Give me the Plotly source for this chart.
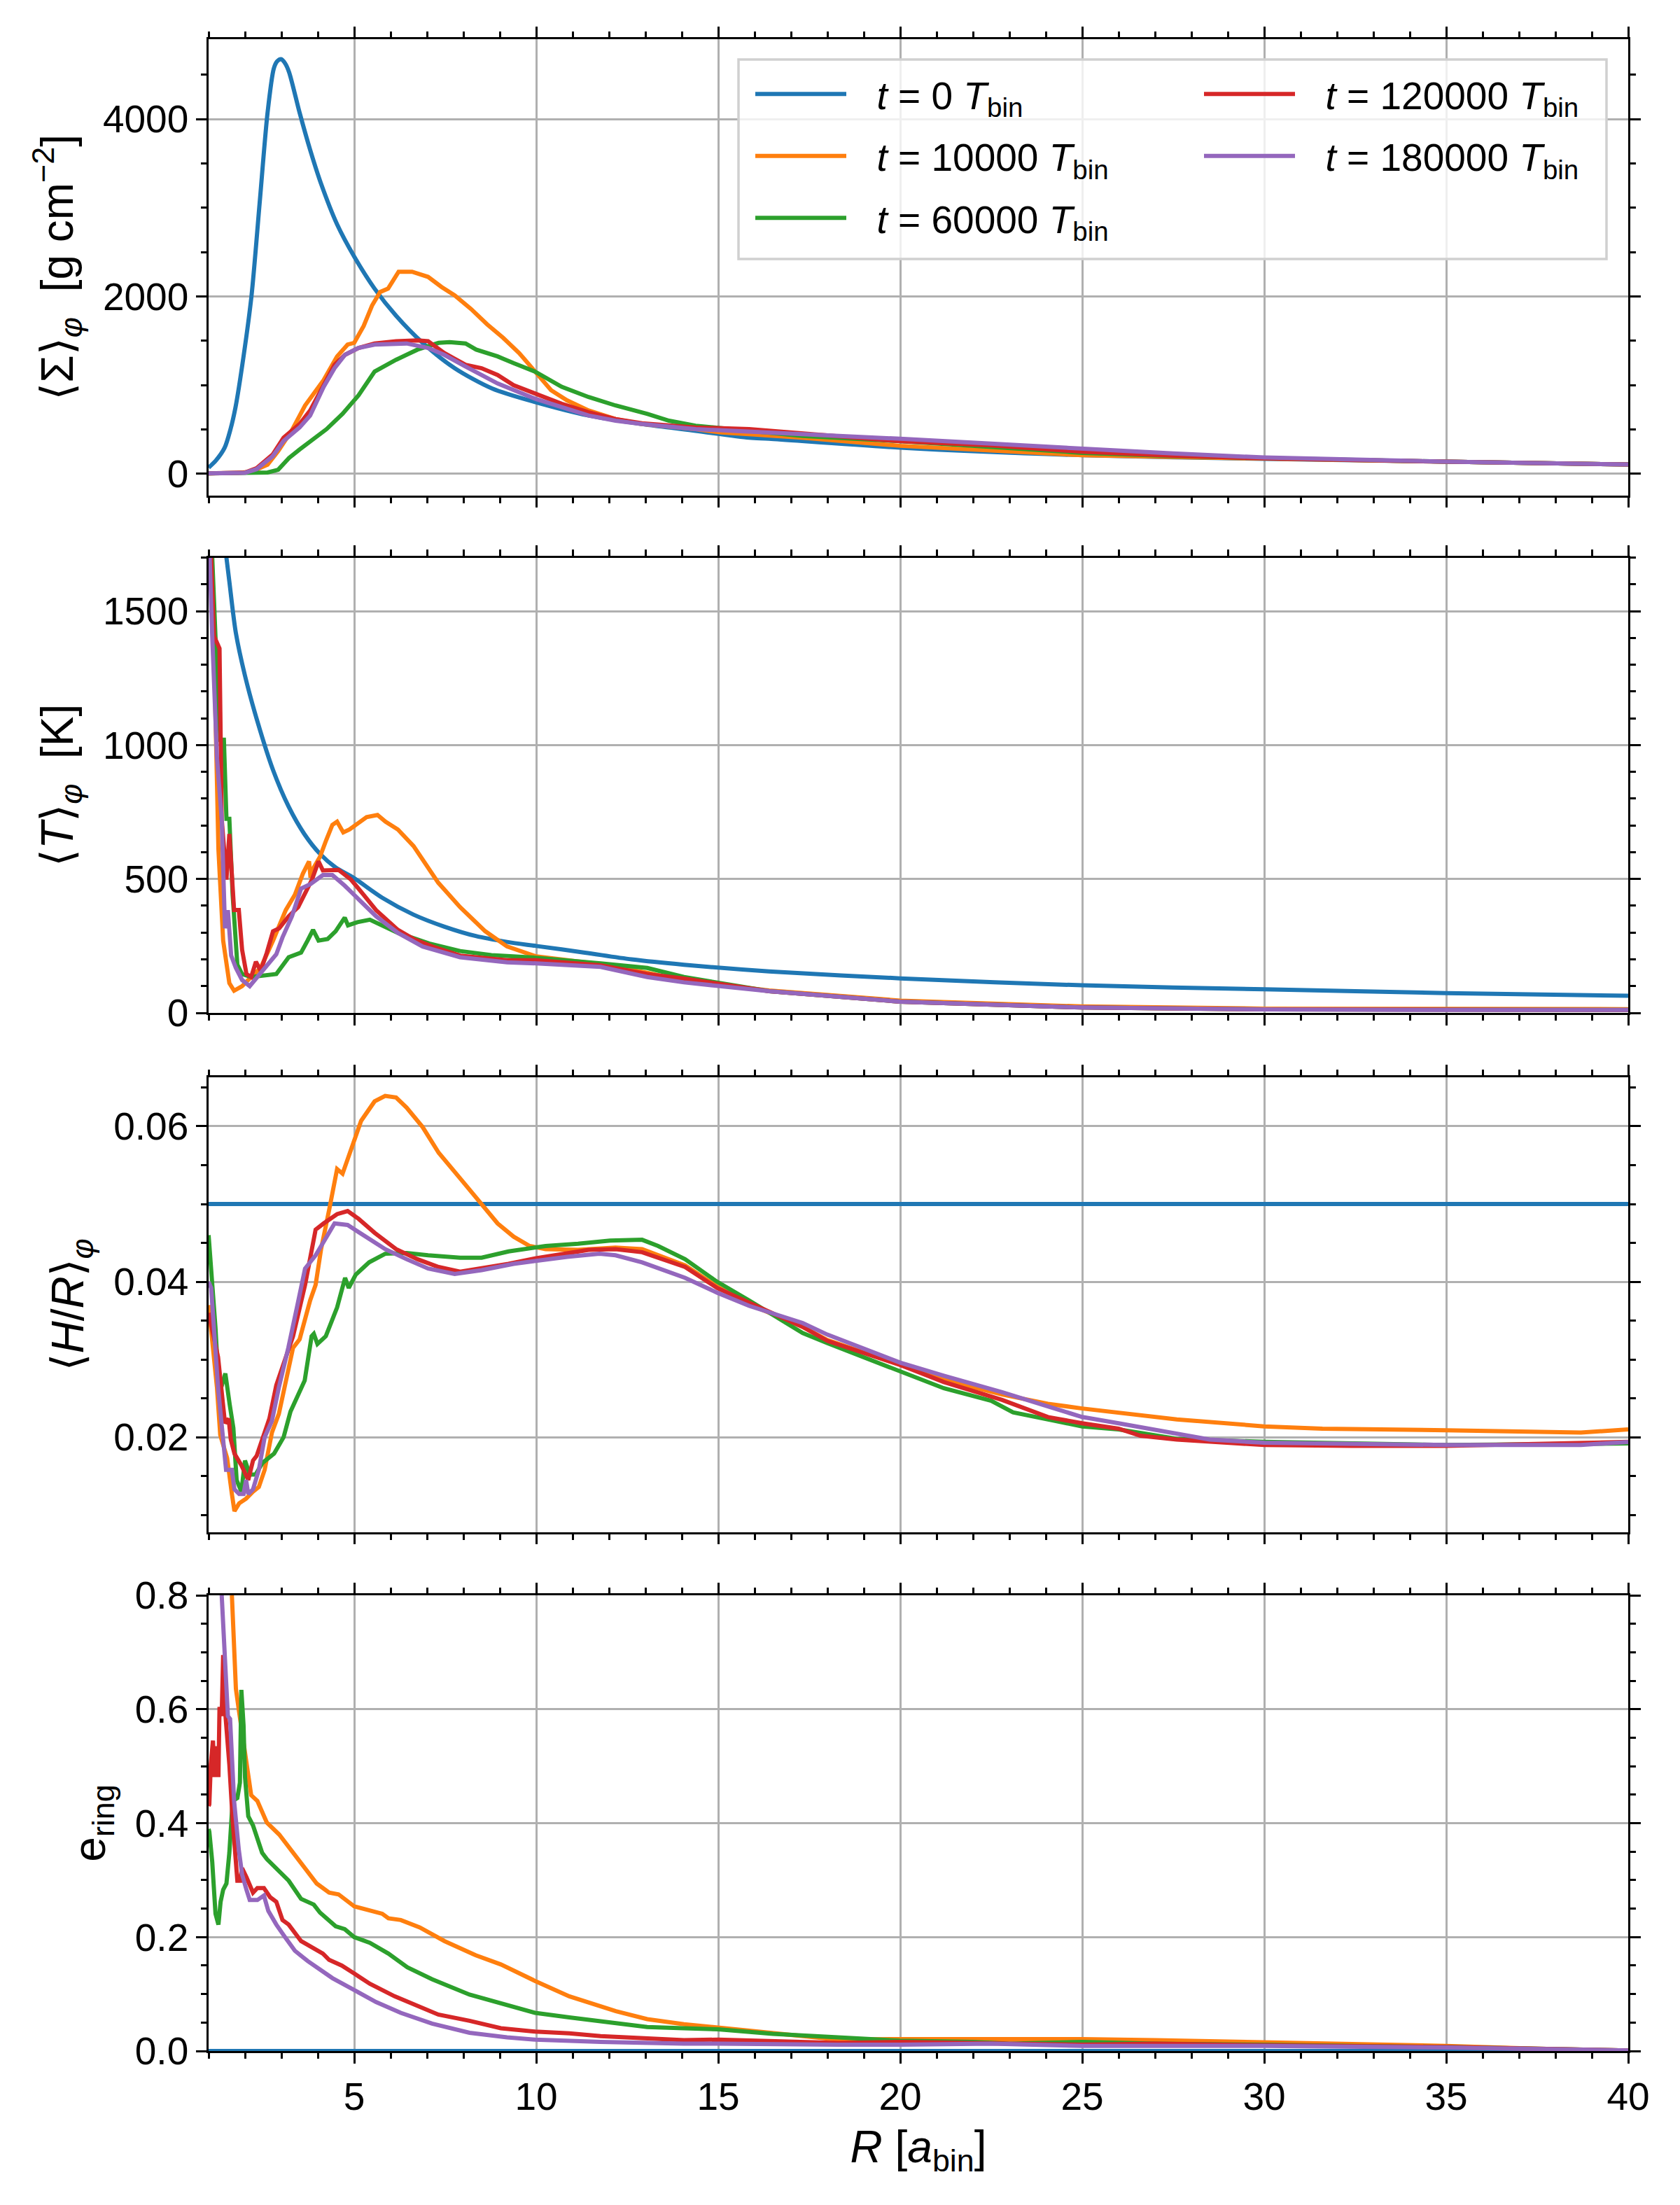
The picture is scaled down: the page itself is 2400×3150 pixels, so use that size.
import plotly.graph_objects as go
from plotly.subplots import make_subplots

# ---------------- data (R [a_bin], value) ----------------
GAP = "\u2002\u2009"
labels = [GAP + "<i>t</i> = 0 <i>T</i><sub>bin</sub>",
          GAP + "<i>t</i> = 10000 <i>T</i><sub>bin</sub>",
          GAP + "<i>t</i> = 60000 <i>T</i><sub>bin</sub>",
          GAP + "<i>t</i> = 120000 <i>T</i><sub>bin</sub>",
          GAP + "<i>t</i> = 180000 <i>T</i><sub>bin</sub>"]
colors = ["#1f77b4", "#ff7f0e", "#2ca02c", "#d62728", "#9467bd"]

# Surface density <Sigma>_phi [g cm^-2]
sig_t0 = [(1.0,70),(1.2,150),(1.44,294),(1.6,500),(1.74,752),(1.96,1324),(2.18,2012),(2.40,3042),(2.62,4073),
          (2.79,4569),(2.88,4650),(2.99,4676),(3.1,4630),(3.21,4531),(3.50,4073),(3.79,3653),(4.09,3271),(4.53,2813),
          (5.0,2450),(5.56,2088),(6.15,1783),(6.88,1477),(7.76,1191),(8.79,962),(9.97,809),(11.44,657),(12.91,561),
          (14.38,485),(15.85,408),(16.4,395),(20,295),(25,210),(30,170),(35,137),(40,105)]
sig_t10k = [(1.0,5),(1.8,10),(2.18,25),(2.62,103),(2.91,256),(3.28,485),(3.65,771),(3.94,943),(4.16,1057),(4.53,1324),
            (4.82,1458),(5.0,1477),(5.26,1668),(5.49,1897),(5.71,2050),(5.93,2088),(6.22,2279),(6.59,2279),(7.03,2221),
            (7.4,2107),(7.76,2012),(8.21,1859),(8.65,1687),(9.09,1534),(9.53,1363),(9.97,1153),(10.41,943),(10.85,828),
            (11.44,714),(12.18,618),(12.91,561),(14.38,504),(15.1,466),(15.85,447),(17.3,408),(20,316),(22.5,265),
            (25,210),(27.5,190),(30,170),(35,137),(40,105)]
sig_t60k = [(1.0,5),(2.0,10),(2.62,15),(2.91,46),(3.21,179),(3.5,275),(3.79,370),(4.24,504),(4.68,676),(5.12,886),
            (5.56,1153),(6.15,1286),(6.74,1401),(7.32,1477),(7.62,1485),(8.06,1470),(8.35,1401),(8.94,1324),(9.38,1248),
            (9.97,1153),(10.7,981),(11.44,866),(12.18,771),(13.06,676),(13.65,599),(14.38,542),(15.85,485),(17.3,427),
            (20,368),(22.5,305),(25,237),(27.5,200),(30,175),(35,137),(40,105)]
sig_t120k = [(1.0,5),(2.0,15),(2.32,65),(2.76,218),(3.06,408),(3.5,561),(3.79,714),(4.16,1000),(4.46,1229),(4.75,1343),
             (5.12,1420),(5.56,1470),(6.15,1496),(6.74,1504),(7.03,1496),(7.47,1363),(8.06,1229),(8.5,1191),(8.94,1115),
             (9.38,1000),(9.97,905),(10.7,790),(11.44,695),(12.18,618),(12.91,569),(14.38,523),(15.85,504),(17.3,460),
             (20,368),(22.5,320),(25,250),(27.5,205),(30,175),(35,137),(40,105)]
sig_t180k = [(1.0,5),(2.0,12),(2.32,53),(2.76,198),(3.06,370),(3.5,523),(3.79,657),(4.16,981),(4.46,1191),(4.75,1343),
             (5.12,1420),(5.56,1458),(6.15,1466),(6.44,1470),(7.03,1420),(7.47,1343),(8.06,1210),(8.94,1019),(9.97,847),
             (10.7,752),(11.44,657),(12.18,599),(12.91,561),(14.38,504),(15.85,477),(17.3,450),(20,395),(22.5,340),
             (25,284),(27.5,230),(30,184),(35,137),(40,105)]

# Temperature <T>_phi [K]
temp_t0 = [(1.49,1700),(1.57,1611),(1.75,1418),(2.0,1259),(2.34,1089),(2.77,907),(3.20,770),(3.63,668),(4.06,594),
           (4.49,543),(5.0,503),(5.77,430),(6.63,367),(7.48,322),(8.34,287),(9.2,265),(10.0,250),(11.34,225),
           (12.62,200),(14.06,180),(16.4,155),(20,129),(25,103),(30,88),(35,74),(40,64)]
temp_t10k = [(1.0,1750),(1.05,1700),(1.16,1293),(1.27,611),(1.40,270),(1.57,111),(1.70,83),(1.92,100),(2.17,134),
             (2.43,168),(2.77,270),(3.12,384),(3.37,441),(3.59,520),(3.76,566),(3.80,505),(3.89,543),(4.06,583),
             (4.23,645),(4.40,702),(4.53,714),(4.70,674),(4.87,685),(5.09,708),(5.34,731),(5.64,739),(5.86,714),
             (6.2,685),(6.63,623),(7.31,486),(7.91,395),(8.6,305),(9.2,248),(10.0,211),(11.77,182),(13.05,150),
             (14.06,120),(16.4,84),(20,46),(25,24),(30,16),(35,15),(40,14)]
temp_t60k = [(1.0,1750),(1.1,1700),(1.19,1400),(1.32,1020),(1.42,1020),(1.49,725),(1.57,725),(1.66,441),(1.79,180),
             (1.92,145),(2.17,134),(2.52,140),(2.86,145),(3.20,208),(3.54,225),(3.72,270),(3.87,310),(4.02,270),
             (4.27,276),(4.49,305),(4.74,356),(4.83,327),(5.09,339),(5.43,348),(5.77,327),(6.20,299),(7.06,259),
             (7.91,231),(8.77,216),(10.0,206),(11.77,185),(13.05,168),(14.06,134),(16.4,81),(20,42),(25,20),(30,13),
             (35,11),(40,11)]
temp_t120k = [(1.0,1750),(1.07,1700),(1.15,1407),(1.30,1361),(1.36,725),(1.49,498),(1.57,668),(1.70,384),(1.83,384),
              (1.92,236),(2.04,145),(2.17,134),(2.30,191),(2.43,157),(2.60,225),(2.77,305),(2.94,316),(3.20,361),
              (3.46,395),(3.67,452),(3.84,498),(4.02,566),(4.14,532),(4.57,534),(4.91,498),(5.26,441),(5.60,384),
              (6.20,310),(6.63,276),(7.14,248),(7.91,214),(9.2,197),(10.0,197),(11.77,178),(13.05,145),(14.06,128),
              (16.4,81),(20,42),(25,20),(30,13),(35,11),(40,11)]
temp_t180k = [(1.0,1750),(1.03,1700),(1.10,1407),(1.23,952),(1.36,725),(1.45,316),(1.53,384),(1.62,214),(1.75,168),
              (1.92,123),(2.13,100),(2.34,134),(2.60,180),(2.86,219),(3.03,282),(3.29,361),(3.54,464),(3.80,481),
              (4.14,515),(4.40,515),(4.74,475),(5.17,418),(5.60,361),(6.20,299),(6.88,248),(7.91,208),(9.2,189),
              (10.0,185),(11.77,172),(13.05,134),(14.06,114),(16.4,81),(20,42),(25,20),(30,13),(35,11),(40,11)]

# Aspect ratio <H/R>_phi
hr_t0 = [(1.0,0.05),(40,0.05)]
hr_t10k = [(1.0,0.037),(1.06,0.034),(1.23,0.0264),(1.32,0.0203),(1.51,0.0173),(1.64,0.0127),(1.71,0.0105),(1.84,0.0115),
           (2.03,0.0121),(2.22,0.013),(2.38,0.0136),(2.54,0.0158),(2.74,0.0206),(2.93,0.023),(3.12,0.027),(3.32,0.0315),
           (3.5,0.0326),(3.79,0.0376),(3.94,0.0396),(4.09,0.0442),(4.31,0.0492),(4.53,0.0545),(4.68,0.0539),
           (4.82,0.0558),(4.97,0.0578),(5.19,0.0607),(5.56,0.0632),(5.85,0.0639),(6.15,0.0637),(6.44,0.0624),
           (6.88,0.0599),(7.32,0.0566),(7.91,0.0533),(8.5,0.05),(8.94,0.0475),(9.38,0.0458),(9.82,0.0446),
           (10.26,0.0442),(11.15,0.0441),(12.18,0.0444),(12.91,0.0442),(14.09,0.0421),(14.97,0.0394),(15.85,0.0371),
           (17.32,0.0342),(18.0,0.0325),(20,0.0293),(21.2,0.0274),(22.8,0.0255),(24.06,0.0243),(25,0.0237),
           (26,0.0232),(27.6,0.0223),(30,0.0214),(31.6,0.0211),(35,0.0209),(37.1,0.0207),(38.7,0.0206),(40,0.021)]
hr_t60k = [(1.0,0.046),(1.15,0.0376),(1.19,0.034),(1.29,0.0255),(1.42,0.0276),(1.46,0.0282),(1.58,0.0242),(1.68,0.0212),
           (1.77,0.0145),(1.90,0.013),(2.0,0.017),(2.13,0.0152),(2.29,0.0152),(2.48,0.0167),(2.80,0.0179),(3.06,0.02),
           (3.25,0.0233),(3.44,0.0252),(3.64,0.0273),(3.83,0.033),(3.89,0.0333),(3.99,0.032),(4.22,0.033),
           (4.53,0.0367),(4.75,0.0405),(4.85,0.0392),(5.04,0.0409),(5.41,0.0425),(5.85,0.0436),(6.44,0.0437),
           (7.03,0.0434),(7.91,0.0431),(8.5,0.0431),(9.24,0.0439),(10.26,0.0446),(11.15,0.0449),(12.03,0.0453),
           (12.91,0.0454),(13.35,0.0446),(14.09,0.0429),(14.97,0.04),(15.85,0.0376),(17.32,0.0334),(18.0,0.0321),
           (20,0.0284),(21.2,0.0263),(22.5,0.0247),(23.1,0.0232),(25,0.0214),(26,0.021),(27.6,0.0198),(30,0.0194),
           (35,0.019),(40,0.0192)]
hr_t120k = [(1.0,0.036),(1.26,0.0303),(1.45,0.0218),(1.55,0.0224),(1.61,0.0197),(1.71,0.0179),(1.90,0.0164),
            (2.09,0.0145),(2.22,0.017),(2.32,0.0176),(2.45,0.0194),(2.67,0.0224),(2.86,0.0267),(3.06,0.0294),
            (3.32,0.033),(3.65,0.0396),(3.94,0.0467),(4.16,0.0475),(4.53,0.0487),(4.82,0.0491),(5.12,0.0481),
            (5.56,0.0463),(6.15,0.0442),(6.74,0.0429),(7.32,0.0419),(7.91,0.0413),(8.5,0.0417),(9.24,0.0423),
            (9.97,0.043),(10.7,0.0436),(11.44,0.0441),(12.18,0.0442),(12.91,0.0438),(14.09,0.0419),(14.97,0.0392),
            (15.85,0.0373),(17.32,0.0342),(18.0,0.0324),(20,0.0293),(21.2,0.0271),(22.8,0.0248),(24.06,0.0226),
            (25,0.0218),(26,0.0211),(26.6,0.0202),(27.6,0.0197),(30,0.019),(32.4,0.0189),(35,0.0189),(40,0.0194)]
hr_t180k = [(1.0,0.040),(1.07,0.0392),(1.26,0.0264),(1.42,0.0182),(1.48,0.0158),(1.64,0.0158),(1.71,0.0133),
            (1.84,0.0127),(1.96,0.0127),(2.03,0.0145),(2.09,0.0127),(2.22,0.0133),(2.38,0.0158),(2.54,0.02),
            (2.74,0.0221),(2.93,0.0264),(3.19,0.0315),(3.44,0.037),(3.65,0.0417),(3.94,0.0434),(4.24,0.0458),
            (4.46,0.0475),(4.82,0.0473),(5.26,0.046),(5.85,0.0442),(6.44,0.0429),(7.03,0.0417),(7.76,0.041),
            (8.5,0.0415),(9.38,0.0423),(9.97,0.0427),(10.85,0.0432),(11.74,0.0436),(12.18,0.0434),(12.91,0.0425),
            (14.09,0.0405),(14.97,0.0386),(15.85,0.0369),(17.32,0.0347),(18.0,0.0332),(20,0.0296),(21.2,0.0279),
            (22.8,0.0258),(24.06,0.0239),(25,0.0226),(26,0.0218),(27.6,0.0205),(28.5,0.0197),(30,0.0193),
            (35,0.019),(38.7,0.019),(40,0.0194)]

# Ring eccentricity e_ring
ecc_t0 = [(1.0,0.0),(40,0.0)]
ecc_t10k = [(1.64,0.8),(1.70,0.706),(1.75,0.636),(1.83,0.599),(2.0,0.519),(2.17,0.449),(2.34,0.439),(2.47,0.422),
            (2.60,0.401),(2.94,0.38),(3.20,0.358),(3.63,0.321),(3.97,0.294),(4.31,0.278),(4.57,0.275),(5.0,0.254),
            (5.43,0.246),(5.77,0.241),(5.94,0.233),(6.28,0.23),(6.80,0.217),(7.48,0.193),(8.34,0.168),(9.03,0.152),
            (9.97,0.123),(10.91,0.096),(12.19,0.07),(13.05,0.056),(14.06,0.047),(15,0.041),(16.5,0.03),(18.3,0.02),
            (20,0.021),(23.5,0.022),(25,0.021),(27,0.019),(30,0.015),(32.5,0.013),(35,0.009),(37.5,0.004),(40,0.001)]
ecc_t60k = [(1.0,0.39),(1.02,0.385),(1.10,0.332),(1.19,0.241),(1.27,0.222),(1.33,0.262),(1.40,0.283),(1.49,0.294),
            (1.57,0.348),(1.66,0.439),(1.79,0.444),(1.86,0.471),(1.90,0.634),(1.96,0.572),(2.0,0.481),(2.09,0.412),
            (2.22,0.396),(2.34,0.374),(2.47,0.348),(2.60,0.337),(2.94,0.316),(3.20,0.299),(3.54,0.267),(3.89,0.257),
            (4.06,0.243),(4.49,0.219),(4.74,0.214),(5.0,0.2),(5.43,0.19),(5.94,0.171),(6.46,0.147),(7.14,0.126),
            (8.17,0.099),(9.2,0.08),(9.97,0.067),(10.91,0.059),(12.19,0.048),(13.05,0.042),(14.06,0.04),(15,0.038),
            (16.5,0.03),(18.3,0.024),(20,0.018),(22,0.016),(23,0.013),(25,0.016),(27,0.013),(30,0.011),(35,0.007),
            (40,0.001)]
ecc_t120k = [(1.0,0.43),(1.02,0.433),(1.06,0.503),(1.12,0.545),(1.16,0.481),(1.21,0.535),(1.27,0.481),(1.30,0.604),
             (1.36,0.588),(1.40,0.695),(1.45,0.6),(1.57,0.503),(1.66,0.406),(1.79,0.299),(1.87,0.299),(1.92,0.321),
             (2.04,0.305),(2.22,0.278),(2.34,0.286),(2.52,0.286),(2.69,0.27),(2.86,0.262),(3.03,0.23),(3.20,0.222),
             (3.54,0.193),(3.89,0.179),(4.14,0.171),(4.31,0.16),(4.66,0.15),(5.0,0.136),(5.43,0.118),(6.11,0.096),
             (6.80,0.078),(7.31,0.064),(8.17,0.053),(9.03,0.04),(9.97,0.034),(10.91,0.031),(11.77,0.026),(14.06,0.019),
             (15,0.02),(18.3,0.014),(20,0.016),(22.5,0.013),(25,0.011),(27,0.013),(30,0.01),(35,0.007),(40,0.001)]
ecc_t180k = [(1.36,0.8),(1.45,0.679),(1.53,0.588),(1.59,0.583),(1.70,0.439),(1.83,0.353),(1.92,0.31),(2.04,0.283),
             (2.13,0.265),(2.34,0.265),(2.52,0.273),(2.64,0.246),(2.86,0.222),(3.12,0.198),(3.37,0.176),(3.72,0.158),
             (4.14,0.139),(4.40,0.128),(5.0,0.107),(5.60,0.086),(6.28,0.067),(7.14,0.048),(8.17,0.032),(9.2,0.024),
             (9.97,0.02),(11.77,0.016),(14.06,0.013),(15,0.013),(18.3,0.011),(20,0.011),(22.5,0.013),(25,0.009),
             (30,0.009),(35,0.006),(40,0.001)]

panels = [
    [sig_t0, sig_t10k, sig_t60k, sig_t120k, sig_t180k],
    [temp_t0, temp_t10k, temp_t60k, temp_t120k, temp_t180k],
    [hr_t0, hr_t10k, hr_t60k, hr_t120k, hr_t180k],
    [ecc_t0, ecc_t10k, ecc_t60k, ecc_t120k, ecc_t180k],
]
y_titles = ["⟨Σ⟩<sub><i>φ</i></sub>  [g cm<sup>−2</sup>]",
            "⟨<i>T</i>⟩<sub><i>φ</i></sub>  [K]",
            "⟨<i>H</i>/<i>R</i>⟩<sub><i>φ</i></sub>",
            "e<sub>ring</sub>"]
x_ticks = [5, 10, 15, 20, 25, 30, 35, 40]

# ---------------- layout geometry (pixels) ----------------
W, H = 2400, 3150
L, R_, T, B = 298, 74, 56, 220
pw, ph = W - L - R_, H - T - B
def pxx(px):
    return (px - L) / pw
def pxy(py):
    return (H - B - py) / ph

domains = [(pxy(707.7), pxy(56)), (pxy(1447), pxy(796.7)), (pxy(2188.7), pxy(1539)), (pxy(2930), pxy(2279))]
y_ranges = [[-243, 4901], [0, 1700], [0.0078, 0.0663], [0, 0.8]]
y_dtick = [2000, 500, 0.02, 0.2]
y_minor = [500, 100, 0.005, 0.05]
y_fmt = ["d", "d", ".2f", ".1f"]

FONT = "Liberation Sans, Arial, DejaVu Sans, sans-serif"
fig = make_subplots(rows=4, cols=1, shared_xaxes=False)

for i, series in enumerate(panels):
    for j, pts in enumerate(series):
        smooth = (j == 0 and i < 2)
        fig.add_trace(go.Scatter(
            x=[p[0] for p in pts], y=[p[1] for p in pts], mode="lines",
            line=dict(color=colors[j], width=6, shape=("spline" if smooth else "linear"),
                      smoothing=(0.8 if smooth else None)),
            name=labels[j], showlegend=(i == 0),
            legend=("legend" if j < 3 else "legend2"),
            legendgroup=f"g{j}",
        ), row=i + 1, col=1)

axis_common = dict(showline=True, linecolor="black", linewidth=3.3, mirror="ticks",
                   ticks="outside", ticklen=14.6, tickwidth=3.3, tickcolor="black",
                   showgrid=True, gridcolor="#b0b0b0", gridwidth=3.2, zeroline=False,
                   tickfont=dict(family=FONT, size=55, color="black"))

for i in range(4):
    n = "" if i == 0 else str(i + 1)
    fig.layout["xaxis" + n].update(
        range=[1, 40], tickvals=x_ticks, showticklabels=(i == 3), domain=[0, 1],
        minor=dict(dtick=1, tick0=0, ticks="outside", ticklen=8.3, tickwidth=2.5, tickcolor="black", showgrid=False),
        **axis_common)
    fig.layout["yaxis" + n].update(
        range=y_ranges[i], dtick=y_dtick[i], tick0=0, tickformat=y_fmt[i], domain=list(domains[i]),
        minor=dict(dtick=y_minor[i], tick0=0, ticks="outside", ticklen=8.3, tickwidth=2.5, tickcolor="black", showgrid=False),
        title=dict(text=y_titles[i], font=dict(family=FONT, size=64, color="black"), standoff=22),
        **axis_common)

fig.layout.xaxis4.title = dict(text="<i>R</i> [<i>a</i><sub>bin</sub>]", font=dict(family=FONT, size=64, color="black"), standoff=20)

# legend frame (matplotlib-like box)
fig.add_shape(type="rect", xref="paper", yref="paper",
              x0=pxx(1055), x1=pxx(2295), y0=pxy(370), y1=pxy(85),
              fillcolor="rgba(255,255,255,0.8)", line=dict(color="#d0d0d0", width=3.5), layer="above")

leg_common = dict(bgcolor="rgba(0,0,0,0)", borderwidth=0, orientation="v", yanchor="top", xanchor="left",
                  font=dict(family=FONT, size=55, color="black"), itemwidth=130, tracegroupgap=14,
                  traceorder="grouped")
fig.update_layout(
    legend=dict(x=pxx(1074), y=pxy(92), **leg_common),
    legend2=dict(x=pxx(1715), y=pxy(92), **leg_common),
)

fig.update_layout(width=W, height=H, margin=dict(l=L, r=R_, t=T, b=B),
                  paper_bgcolor="white", plot_bgcolor="white",
                  font=dict(family=FONT, size=55, color="black"))

fig.write_html("out.html")
